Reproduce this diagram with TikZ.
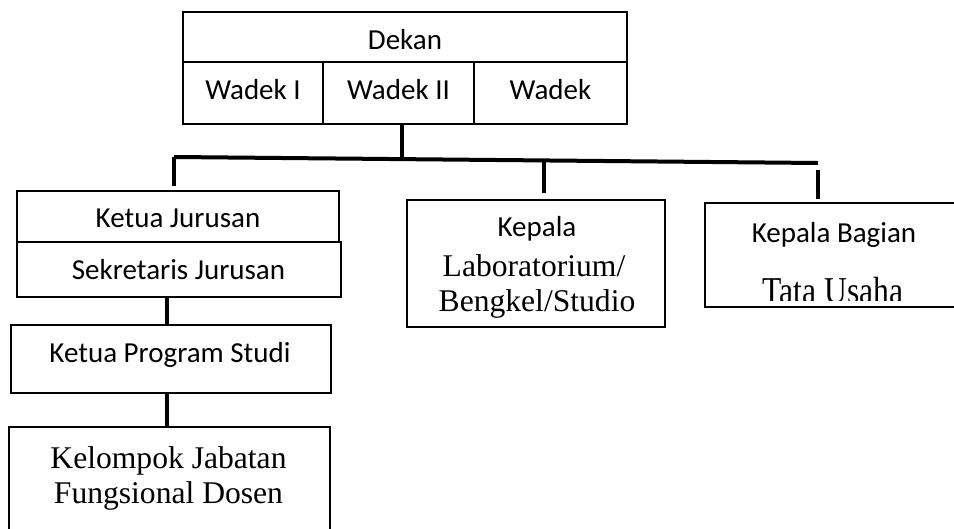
\documentclass[tikz,border=0pt]{standalone}
\usepackage{fontspec}
\setmainfont{Liberation Serif}
\newfontfamily\calibri{Carlito}
\usetikzlibrary{positioning}
\tikzset{
  box/.style={draw,line width=1.6pt,inner sep=0pt},
  link/.style={line width=4pt},
  sanstext/.style={anchor=base,inner sep=0pt,font=\calibri\fontsize{29}{35}\selectfont},
  seriftext/.style={anchor=base,inner sep=0pt,font=\fontsize{31.6}{38}\selectfont}
}
\begin{document}
\begin{tikzpicture}[x=1pt,y=-1pt]
\clip (0,0) rectangle (954,529);
\fill[white] (0,0) rectangle (954,529);

% dekan and the three wadek cells
\node[box,minimum width=444pt,minimum height=50pt] (dekan) at (405,37) {};
\foreach \name/\cx/\w in {wadekI/253/140,wadekII/398.5/151,wadekIII/550.5/153}
  \node[box,minimum width=\w pt,minimum height=62pt] (\name) at (\cx,93) {};
\node[sanstext] (tdekan) at (405,50) {Dekan};
\node[sanstext] (twadekI) at (253,100) {Wadek I};
\node[sanstext] (twadekII) at (398.5,100) {Wadek II};
\node[sanstext] (twadekIII) at (550.5,100) {Wadek};

% jurusan column
\node[box,minimum width=322pt,minimum height=51pt] (kajur) at (178,216.5) {};
\node[box,line width=2.4pt,minimum width=324pt,minimum height=55pt] (sekjur) at (179,269.5) {};
\node[box,minimum width=320pt,minimum height=68pt] (kaprodi) at (171,359) {};
\node[box,minimum width=321pt,minimum height=130pt] (kjfd) at (169.5,492) {};
\node[sanstext] (tkajur) at (178,228) {Ketua Jurusan};
\node[sanstext] (tsekjur) at (178.5,280) {Sekretaris Jurusan};
\node[sanstext] (tkaprodi) at (170,363) {Ketua Program Studi};
\node[seriftext] (tkjfd1) at (168.5,468) {Kelompok Jabatan};
\node[seriftext] (tkjfd2) at (168.5,503) {Fungsional Dosen};

% laboratorium
\node[box,minimum width=258pt,minimum height=127pt] (kalab) at (536,263.5) {};
\node[sanstext] (tkalab1) at (537,237) {Kepala};
\node[seriftext] (tkalab2) at (534,277) {Laboratorium/};
\node[seriftext] (tkalab3) at (537,312) {Bengkel/Studio};

% tata usaha, cut off at the bottom
\node[box,minimum width=258pt,minimum height=104pt] (kabag) at (834,255) {};
\node[sanstext] (tkabag1) at (834,243) {Kepala Bagian};
\begin{scope}
  \clip (705,203) rectangle (963,301);
  \begin{scope}[shift={(833,304)},yscale=1.2]
    \node[seriftext,transform shape] (tkabag2) at (0,0) {Tata Usaha};
  \end{scope}
\end{scope}

% the connecting lines
\coordinate (jdekan) at (402,159.5);
\coordinate (jleft) at (174,157);
\coordinate (jright) at (818,163);
\coordinate (jlab) at (544,162);
\coordinate (jbag) at (818,170);
\draw[link] (jdekan |- wadekII.south) -- (jdekan);
\draw[link] (jleft) -- (jright);
\draw[link] (jleft) -- (174,186);
\draw[link] (jlab) -- (544,193);
\draw[link] (jbag) -- (818,199);
\draw[link] (167,297) coordinate (jsek) -- (jsek |- kaprodi.north);
\draw[link] (jsek |- kaprodi.south) -- (jsek |- kjfd.north);
\end{tikzpicture}
\end{document}
